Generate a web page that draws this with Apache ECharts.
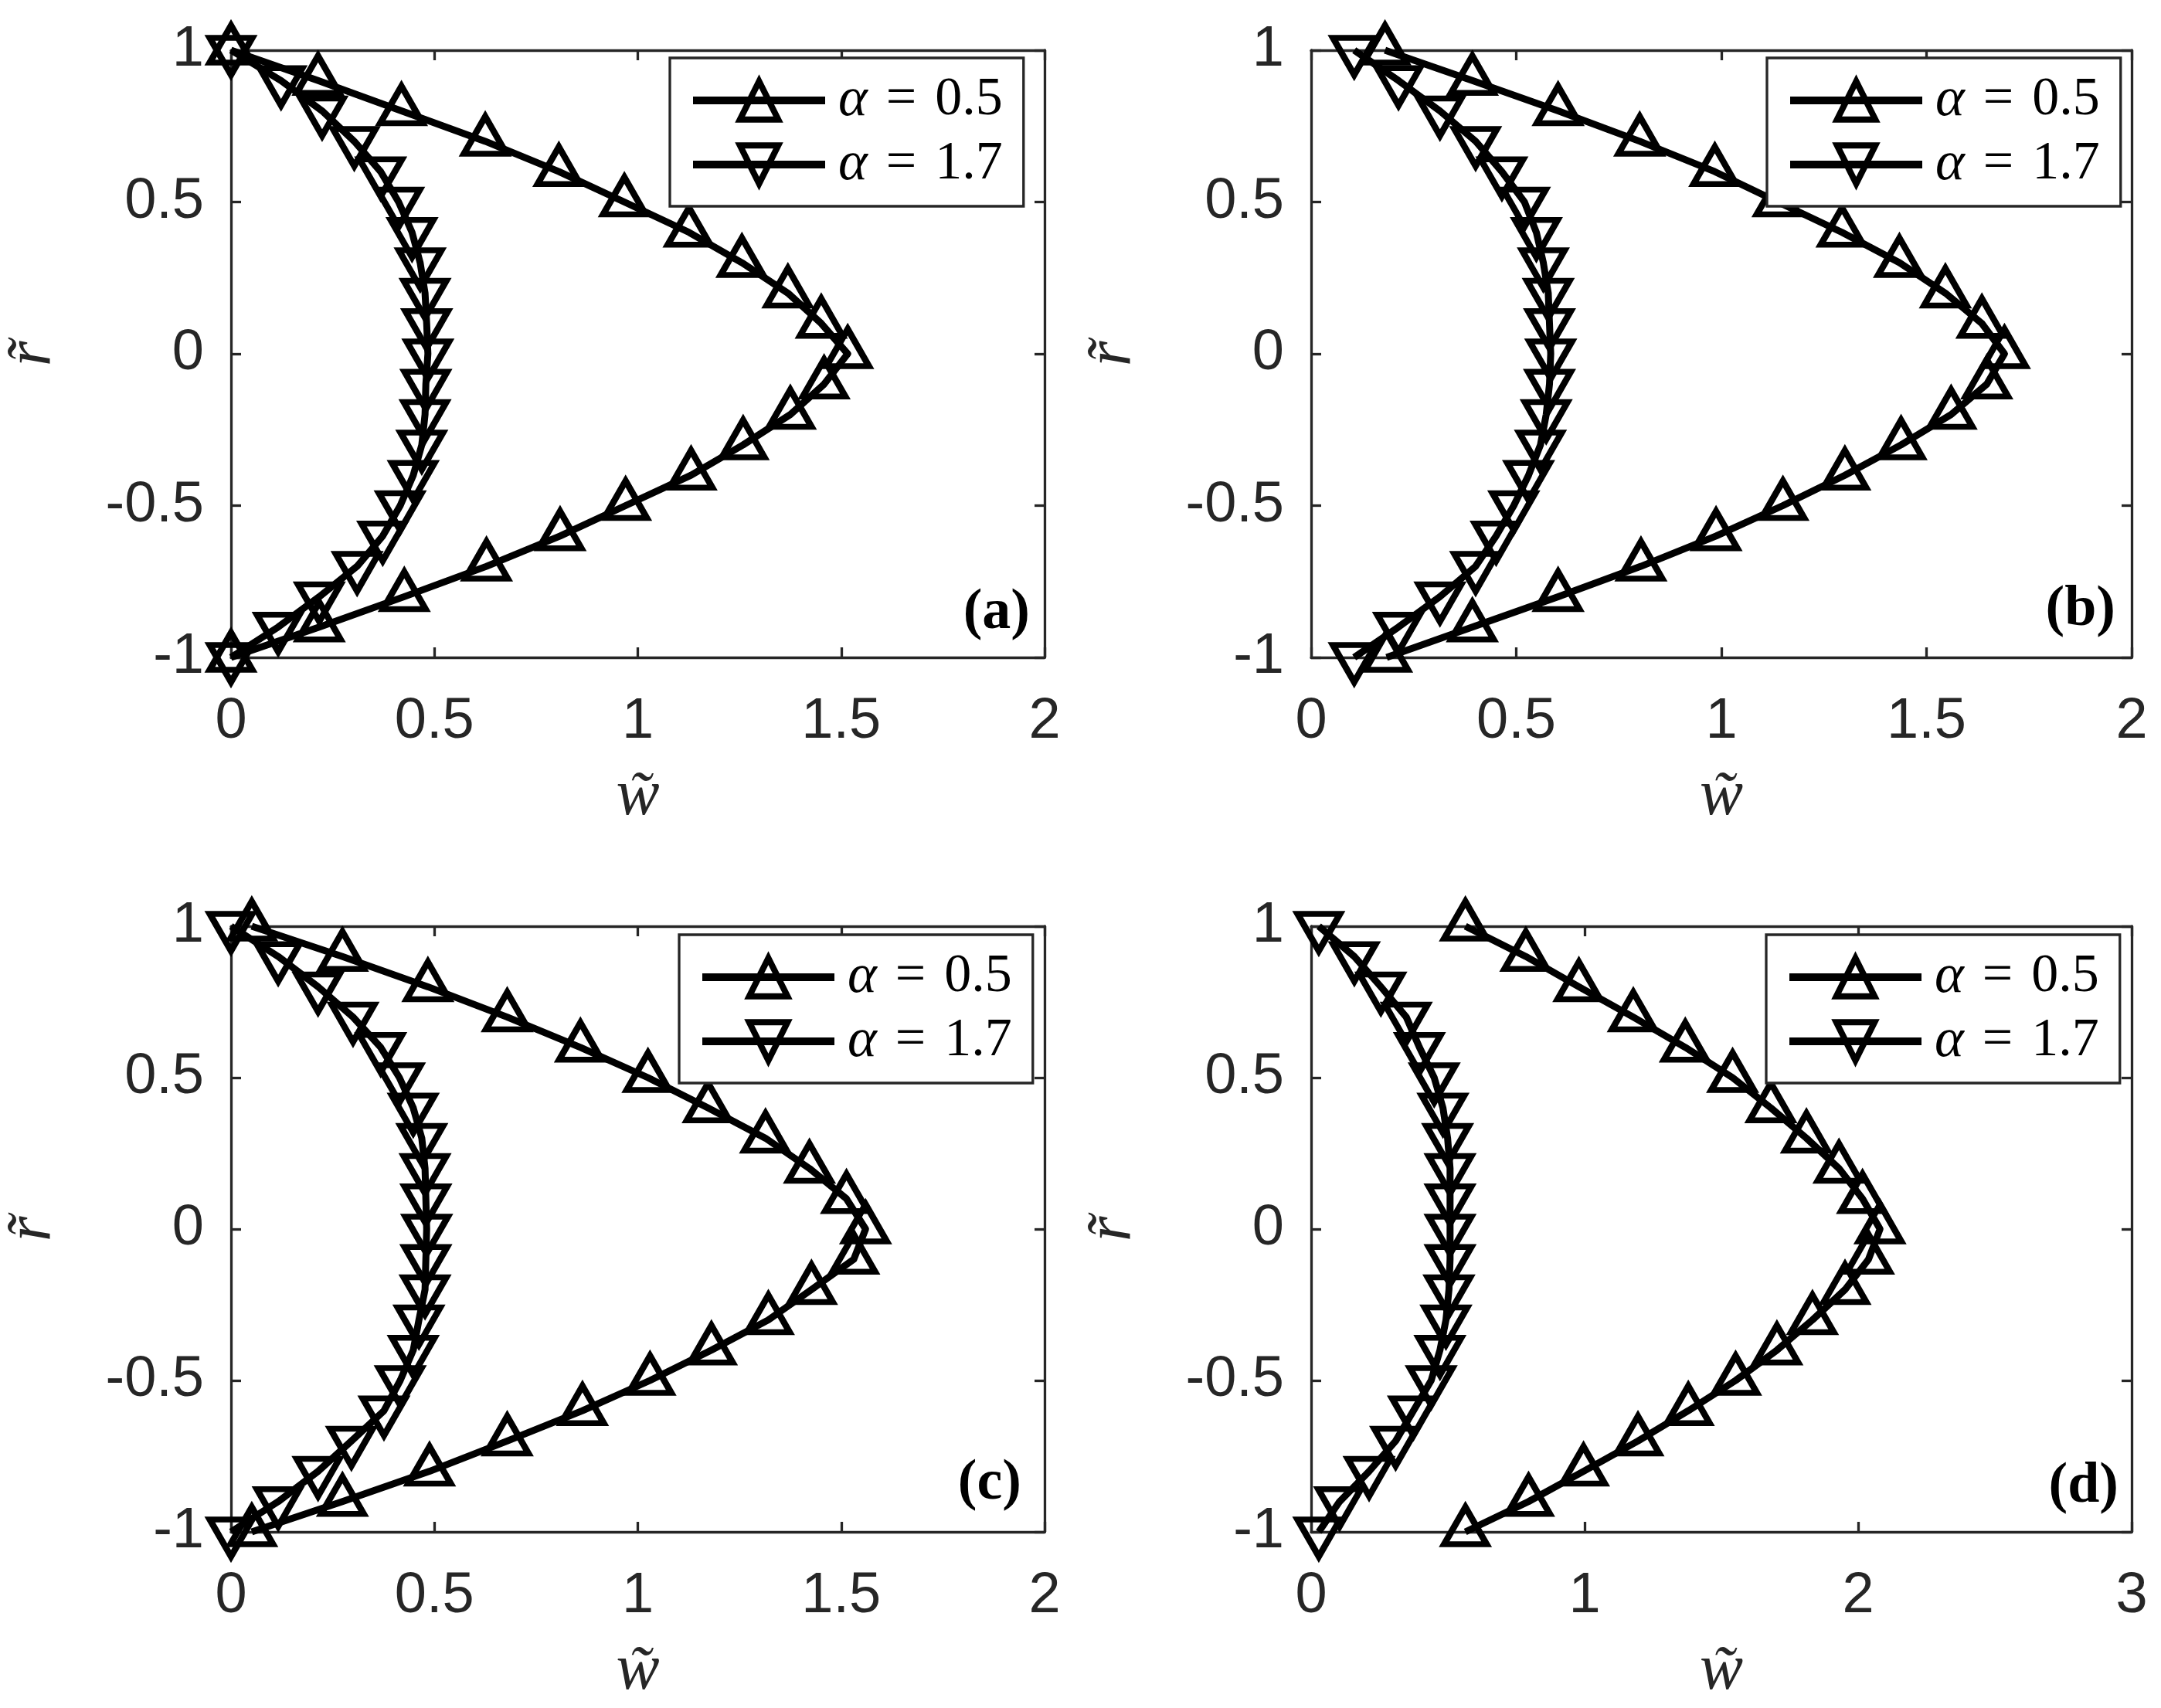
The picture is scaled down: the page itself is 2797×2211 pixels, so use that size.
<!DOCTYPE html>
<html><head><meta charset="utf-8">
<script src="https://cdn.jsdelivr.net/npm/echarts@6/dist/echarts.min.js"></script>
<style>html,body{margin:0;padding:0;background:#fff}#c{width:2797px;height:2211px}</style>
</head><body><div id="c"></div>
<script>
// radial positions (y axis) shared by every series
const rVals = [1, 0.9, 0.8, 0.7, 0.6, 0.5, 0.4, 0.3, 0.2, 0.1, 0, -0.1, -0.2, -0.3, -0.4, -0.5, -0.6, -0.7, -0.8, -0.9, -1];
const seriesNames = ['α = 0.5', 'α = 1.7'];
const panelLabels = ['(a)', '(b)', '(c)', '(d)'];
const yTicks = [-1, -0.5, 0, 0.5, 1];
const xTicksABC = [0, 0.5, 1, 1.5, 2];
const xTicksD = [0, 1, 2, 3];

// panel (a)
const wA05 = [0, 0.214, 0.419, 0.625, 0.806, 0.967, 1.126, 1.256, 1.369, 1.451, 1.516, 1.458, 1.375, 1.259, 1.131, 0.970, 0.809, 0.628, 0.426, 0.217, 0];
const wA17 = [0, 0.123, 0.224, 0.303, 0.368, 0.412, 0.445, 0.465, 0.477, 0.481, 0.484, 0.479, 0.477, 0.469, 0.448, 0.416, 0.373, 0.310, 0.217, 0.116, 0];
// panel (b)
const wB05 = [0.180, 0.393, 0.602, 0.801, 0.984, 1.138, 1.294, 1.434, 1.546, 1.635, 1.690, 1.647, 1.560, 1.438, 1.301, 1.150, 0.987, 0.804, 0.602, 0.393, 0.184];
const wB17 = [0.105, 0.213, 0.314, 0.401, 0.465, 0.520, 0.549, 0.566, 0.578, 0.581, 0.584, 0.581, 0.573, 0.559, 0.530, 0.494, 0.451, 0.401, 0.314, 0.213, 0.105];
// panel (c)
const wC05 = [0.051, 0.274, 0.484, 0.679, 0.859, 1.025, 1.173, 1.314, 1.422, 1.513, 1.560, 1.531, 1.427, 1.321, 1.181, 1.030, 0.864, 0.679, 0.488, 0.274, 0.051];
const wC17 = [0, 0.116, 0.214, 0.300, 0.368, 0.414, 0.448, 0.469, 0.477, 0.479, 0.481, 0.479, 0.477, 0.462, 0.448, 0.416, 0.376, 0.296, 0.214, 0.116, 0];
// panel (d)
const wD05 = [0.564, 0.785, 0.979, 1.178, 1.368, 1.541, 1.681, 1.811, 1.930, 2.016, 2.080, 2.038, 1.952, 1.833, 1.703, 1.552, 1.379, 1.195, 0.996, 0.795, 0.564];
const wD17 = [0.028, 0.158, 0.255, 0.348, 0.396, 0.450, 0.482, 0.499, 0.508, 0.508, 0.508, 0.508, 0.504, 0.493, 0.471, 0.439, 0.374, 0.309, 0.212, 0.104, 0.028];

const panels = [
  { w05: wA05, w17: wA17, xTicks: xTicksABC, grid: {left: 293, top: 65, width: 1059, height: 786}, legend: {left: 867, top: 75}, label: {x: 1333, y: 794} },
  { w05: wB05, w17: wB17, xTicks: xTicksABC, grid: {left: 1697, top: 65, width: 1062, height: 786}, legend: {left: 2287, top: 75}, label: {x: 2738, y: 790} },
  { w05: wC05, w17: wC17, xTicks: xTicksABC, grid: {left: 293, top: 1199, width: 1059, height: 784}, legend: {left: 879, top: 1210}, label: {x: 1322, y: 1921} },
  { w05: wD05, w17: wD17, xTicks: xTicksD, grid: {left: 1697, top: 1199, width: 1062, height: 784}, legend: {left: 2286, top: 1210}, label: {x: 2742, y: 1925} }
];

const AX = '#262626';
const LW = 9, MW = 8;
const UP = 'triangle';
const DOWN = 'path://M0,0L2,0L1,1.732Z';
const MSIZE = [55, 48];

function axisBase(min, max, interval) {
  return {
    type: 'value', min: min, max: max, interval: interval,
    axisLine: {show: true, onZero: false, lineStyle: {color: AX, width: 3.3}},
    axisTick: {show: true, inside: true, length: 13, lineStyle: {color: AX, width: 3.3}},
    splitLine: {show: false}
  };
}

const grids = [], xAxes = [], yAxes = [], series = [], legends = [], graphics = [];
panels.forEach((p, gi) => {
  grids.push(Object.assign({containLabel: false}, p.grid));
  const xmax = p.xTicks[p.xTicks.length - 1];
  const xint = p.xTicks[1] - p.xTicks[0];
  xAxes.push(Object.assign(axisBase(p.xTicks[0], xmax, xint), {
    gridIndex: gi, position: 'bottom',
    name: 'w\u0303', nameLocation: 'middle', nameGap: 139,
    nameTextStyle: {fontFamily: 'Liberation Serif', fontStyle: 'italic', fontSize: 84, color: AX},
    axisLabel: {show: true, margin: 47, fontFamily: 'Liberation Sans', fontSize: 74, color: AX,
      formatter: v => String(v)}
  }));
  xAxes.push(Object.assign(axisBase(p.xTicks[0], xmax, xint), {
    gridIndex: gi, position: 'top', axisLabel: {show: false}
  }));
  yAxes.push(Object.assign(axisBase(yTicks[0], yTicks[yTicks.length - 1], yTicks[1] - yTicks[0]), {
    gridIndex: gi, position: 'left',
    name: 'r\u0303', nameLocation: 'middle', nameGap: 214, nameRotate: 90,
    nameTextStyle: {fontFamily: 'Liberation Serif', fontStyle: 'italic', fontSize: 84, color: AX},
    axisLabel: {show: true, margin: 35, fontFamily: 'Liberation Sans', fontSize: 74, color: AX,
      formatter: v => String(v)}
  }));
  yAxes.push(Object.assign(axisBase(yTicks[0], yTicks[yTicks.length - 1], yTicks[1] - yTicks[0]), {
    gridIndex: gi, position: 'right', axisLabel: {show: false}
  }));
  [[p.w05, UP, seriesNames[0]], [p.w17, DOWN, seriesNames[1]]].forEach(([ws, sym, nm]) => {
    series.push({
      type: 'line', name: nm, xAxisIndex: 2 * gi, yAxisIndex: 2 * gi,
      data: ws.map((w, i) => [w, rVals[i]]),
      symbol: sym, symbolSize: MSIZE, symbolOffset: [0, sym === UP ? -8 : 8],
      showSymbol: true, clip: false, silent: true,
      lineStyle: {color: '#000', width: LW, join: 'round'},
      itemStyle: {color: 'rgba(0,0,0,0)', borderColor: '#000', borderWidth: MW, borderJoin: 'miter', borderMiterLimit: 10},
      emphasis: {disabled: true}
    });
  });
  legends.push({
    left: p.legend.left, top: p.legend.top, orient: 'vertical',
    data: seriesNames, selectedMode: false,
    itemWidth: 171, itemHeight: 62, itemGap: 11,
    padding: [19, 27, 18, 25],
    backgroundColor: '#fff', borderColor: AX, borderWidth: 3.3,
    formatter: n => { const v = n.split('=')[1].trim(); return '{i|α}{e|=}' + v; },
    textStyle: {fontFamily: 'Liberation Serif', fontSize: 70, color: '#000', padding: [0, 0, 0, 12],
      rich: {
        i: {fontFamily: 'Liberation Serif', fontStyle: 'italic', fontSize: 72, color: '#000'},
        e: {fontFamily: 'Liberation Serif', fontSize: 70, color: '#000', padding: [0, 24, 0, 24]}
      }},
    itemStyle: {color: 'rgba(0,0,0,0)', borderColor: '#000', borderWidth: MW, borderJoin: 'miter'},
    lineStyle: {color: '#000', width: LW + 1}
  });
  graphics.push({
    type: 'text', x: p.label.x, y: p.label.y, silent: true,
    style: {text: panelLabels[gi], font: 'bold 74px "Liberation Serif"', fill: '#000',
      align: 'right', verticalAlign: 'middle', textAlign: 'right', textVerticalAlign: 'middle'}
  });
});

const chart = echarts.init(document.getElementById('c'), null, {renderer: 'canvas'});
chart.setOption({
  animation: false,
  backgroundColor: '#fff',
  grid: grids, xAxis: xAxes, yAxis: yAxes, series: series,
  legend: legends, graphic: graphics
});
</script>
</body></html>
